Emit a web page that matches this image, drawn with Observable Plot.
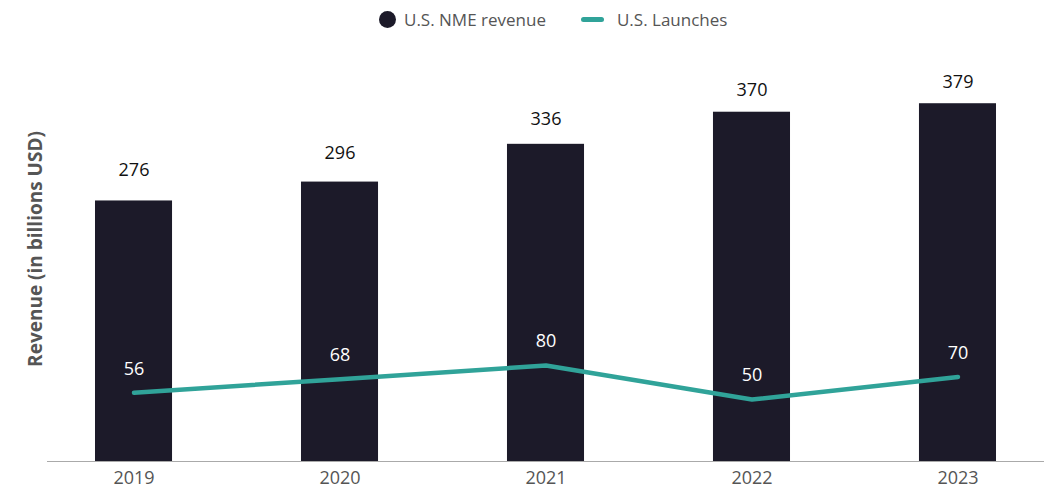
<!DOCTYPE html>
<html>
<head>
<meta charset="utf-8">
<script src="https://cdn.jsdelivr.net/npm/d3@7"></script>
<script src="https://cdn.jsdelivr.net/npm/@observablehq/plot@0.6"></script>
<style>
  html, body { margin: 0; padding: 0; background: #fff; font-family: "Open Sans", sans-serif; }
  #legend { height: 38px; display: flex; align-items: center; justify-content: flex-start; padding-left: 379px; box-sizing: border-box; font-size: 17px; color: #555; white-space: nowrap; }
  .item { display: flex; align-items: center; }
  .dot { width: 17px; height: 17px; border-radius: 50%; background: #1c1a29; margin-right: 8px; }
  .ln { width: 23px; height: 5px; border-radius: 3px; background: #30a399; margin-right: 13px; margin-left: 35px; }
  svg { display: block; }
</style>
</head>
<body>
<div id="legend">
  <div class="item"><span class="dot"></span><span>U.S. NME revenue</span></div>
  <div class="item"><span class="ln"></span><span>U.S. Launches</span></div>
</div>
<div id="chart"></div>
<script>
const years = ["2019", "2020", "2021", "2022", "2023"];
const revenue = [276, 296, 336, 370, 379];
const launches = [56, 68, 80, 50, 70];

// secondary (hidden) axis for launches, mapped into the revenue scale
const launchScale = d3.scaleLinear().domain([0, 100]).range([5.6, 125.6]);
// value-label placement above the bars (in revenue-scale units)
const labelScale = d3.scaleLinear().domain([0, 100]).range([58.3, 148.9]);

const data = years.map((y, i) => ({
  year: y,
  revenue: revenue[i],
  launches: launches[i],
  ly: launchScale(launches[i]),
  ry: labelScale(revenue[i])
}));

const chart = Plot.plot({
  width: 1046,
  height: 455,
  marginLeft: 47,
  marginRight: 2,
  marginTop: 10,
  marginBottom: 32,
  style: {fontFamily: "Open Sans, sans-serif", background: "#fff"},
  x: {domain: years, paddingInner: 0.626, paddingOuter: 0.233, round: false, label: null},
  y: {domain: [0, 437.5], axis: null},
  marks: [
    Plot.barY(data, {x: "year", y: "revenue", fill: "#1c1a29"}),
    Plot.ruleY([0], {stroke: "#aaa", strokeWidth: 1.2}),
    Plot.line(data, {x: "year", y: "ly", stroke: "#30a399", strokeWidth: 4.5, strokeLinecap: "round", strokeLinejoin: "round"}),
    Plot.text(data, {x: "year", y: "ry", text: d => String(d.revenue), fill: "#111", fontSize: 18}),
    Plot.text(data, {x: "year", y: "ly", text: d => String(d.launches), dy: -24, fill: "#fff", fontSize: 18}),
    Plot.axisX({tickSize: 0, tickPadding: 10, fontSize: 18, fill: "#555", label: null}),
    Plot.text(["Revenue (in billions USD)"], {frameAnchor: "left", textAnchor: "middle", lineAnchor: "middle", dx: -12, dy: -6, rotate: -90, text: d => d, fontSize: 19, fontWeight: "bold", fill: "#555"})
  ]
});
document.getElementById("chart").appendChild(chart);
</script>
</body>
</html>
